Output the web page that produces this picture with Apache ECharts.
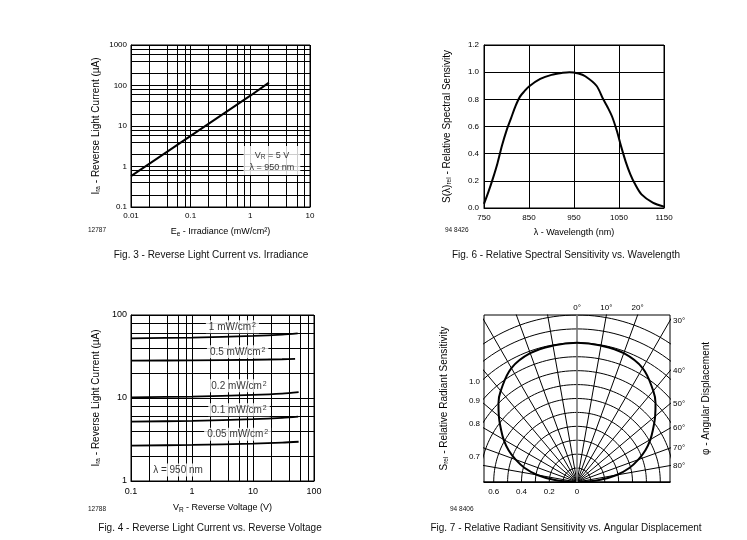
<!DOCTYPE html>
<html>
<head>
<meta charset="utf-8">
<script src="https://cdn.jsdelivr.net/npm/echarts@6.0.0/dist/echarts.min.js"></script>
<style>
html,body{margin:0;padding:0;background:#fff;}
#chart{width:747px;height:540px;}
</style>
</head>
<body>
<div id="chart"></div>
<script>
// ---------------- Fig. 3 : Reverse light current vs. irradiance ----------------
const fig3Irradiance = [0.01, 0.1, 1, 2.05];          // mW/cm²
const fig3Current    = [0.58, 5.7, 56, 118];          // µA
const fig3XTicks = [0.01, 0.1, 1, 10];
const fig3YTicks = [0.1, 1, 10, 100, 1000];

// ---------------- Fig. 6 : Relative spectral sensitivity ----------------
const fig6Wavelength  = [750, 760, 770, 780, 790, 800, 810, 820, 830, 840, 850, 875, 900, 925, 940, 960, 975, 1000, 1015, 1025, 1035, 1045, 1055, 1065, 1075, 1085, 1100, 1125, 1150];
const fig6Sensitivity = [0.03, 0.12, 0.22, 0.33, 0.46, 0.57, 0.66, 0.75, 0.82, 0.86, 0.895, 0.95, 0.98, 0.995, 1.0, 0.99, 0.97, 0.90, 0.80, 0.74, 0.67, 0.57, 0.45, 0.34, 0.25, 0.18, 0.10, 0.04, 0.01];
const fig6XTicks = [750, 850, 950, 1050, 1150];
const fig6YTicks = [0, 0.2, 0.4, 0.6, 0.8, 1.0, 1.2];

// ---------------- Fig. 4 : Reverse light current vs. reverse voltage ----------------
const fig4Voltage1    = [0.1, 1, 10, 30, 54];
const fig4Current1    = [52.4, 53.5, 56, 58, 60];     // 1 mW/cm²
const fig4Voltage05   = [0.1, 1, 10, 30, 49];
const fig4Current05   = [28.2, 28.4, 28.9, 29.3, 29.6]; // 0.5 mW/cm²
const fig4Voltage02   = [0.1, 1, 10, 30, 56];
const fig4Current02   = [10.2, 10.4, 10.9, 11.3, 11.8]; // 0.2 mW/cm²
const fig4Voltage01   = [0.1, 1, 10, 30, 55];
const fig4Current01   = [5.19, 5.3, 5.55, 5.75, 5.95];  // 0.1 mW/cm²
const fig4Voltage005  = [0.1, 1, 10, 30, 56];
const fig4Current005  = [2.67, 2.72, 2.82, 2.9, 2.97];  // 0.05 mW/cm²
const fig4CurveLabels = ['1', '0.5', '0.2', '0.1', '0.05'];
const fig4XTicks = [0.1, 1, 10, 100];
const fig4YTicks = [1, 10, 100];

// ---------------- Fig. 7 : Relative radiant sensitivity vs. angle ----------------
const fig7Angle = [0, 10, 20, 30, 40, 45, 50, 55, 60, 65, 70, 75, 80, 85, 90];       // degrees
const fig7Sens  = [1.0, 0.995, 0.985, 0.945, 0.855, 0.80, 0.735, 0.67, 0.61, 0.545, 0.47, 0.39, 0.29, 0.16, 0.02];
const fig7Rings  = [0.1, 0.2, 0.3, 0.4, 0.5, 0.6, 0.7, 0.8, 0.9, 1.0, 1.1, 1.2];
const fig7Spokes = [-90, -80, -70, -60, -50, -40, -30, -20, -10, 0, 10, 20, 30, 40, 50, 60, 70, 80, 90];
const fig7LeftLabels   = [1.0, 0.9, 0.8, 0.7];
const fig7BottomLabels = [0.6, 0.4, 0.2, 0];
const fig7TopLabels    = [0, 10, 20];
const fig7RightLabels  = [30, 40, 50, 60, 70, 80];

const logGridMultipliers = [1, 2, 4, 6, 8];

// ---------------------------------------------------------------------------
const FONT = '"Liberation Sans", Arial, Helvetica, sans-serif';
const INK = '#000';
const D2R = Math.PI / 180;
const X7MIN = -0.67, X7MAX = 0.67, Y7MAX = 1.2;

function logGridValues(lo, hi) {
  const out = [];
  for (let e = lo; e < hi; e++) {
    logGridMultipliers.forEach(m => out.push(+(m * Math.pow(10, e)).toPrecision(6)));
  }
  out.push(+Math.pow(10, hi).toPrecision(6));
  return out;
}
function zip(xs, ys) { return xs.map((x, i) => [x, ys[i]]); }
function fmtNum(v) { return String(+(+v).toPrecision(6)); }

const subRich = {
  s: { fontSize: 6.5, fontFamily: FONT, color: INK, verticalAlign: 'bottom', lineHeight: 7 }
};
function nameStyle(size) {
  return { fontSize: size, fontFamily: FONT, color: INK, lineHeight: 12, rich: subRich };
}
function tickLabel(size, margin, extra) {
  return Object.assign({ fontSize: size, fontFamily: FONT, color: INK, margin: margin }, extra || {});
}
function textSeries(xi, yi, items, style) {
  return {
    type: 'scatter', xAxisIndex: xi, yAxisIndex: yi, z: 10, silent: true, animation: false,
    symbolSize: 0.1, itemStyle: { color: 'transparent' },
    label: Object.assign({
      show: true, position: 'inside', fontFamily: FONT, color: INK,
      backgroundColor: '#fff'
    }, style),
    data: items
  };
}

// ---- Fig 7 geometry (polar -> cartesian in data units) ----
function polarPt(r, deg) { return [r * Math.sin(deg * D2R), r * Math.cos(deg * D2R)]; }
const fig7Series = [];
fig7Rings.forEach(r => {
  const pts = [];
  for (let a = -90; a <= 90; a += 2) pts.push(polarPt(r, a));
  fig7Series.push({ type: 'line', xAxisIndex: 3, yAxisIndex: 3, data: pts, showSymbol: false, silent: true,
    animation: false, z: 2, lineStyle: { color: INK, width: 1 } });
});
fig7Spokes.forEach(a => {
  fig7Series.push({ type: 'line', xAxisIndex: 3, yAxisIndex: 3, data: [[0, 0], polarPt(1.6, a)], showSymbol: false,
    silent: true, animation: false, z: a === 0 ? 3 : 2,
    lineStyle: { color: a === 0 ? '#777' : INK, width: a === 0 ? 1.6 : 1 } });
});
const fig7Curve = [];
for (let i = fig7Angle.length - 1; i > 0; i--) fig7Curve.push(polarPt(fig7Sens[i], -fig7Angle[i]));
for (let i = 0; i < fig7Angle.length; i++) fig7Curve.push(polarPt(fig7Sens[i], fig7Angle[i]));
fig7Series.push({ type: 'line', xAxisIndex: 3, yAxisIndex: 3, data: fig7Curve, smooth: 0.4, showSymbol: false,
  silent: true, animation: false, z: 5, lineStyle: { color: INK, width: 2 } });

const supRich = { p: { fontSize: 7, fontFamily: FONT, color: INK, verticalAlign: 'top', lineHeight: 7, padding: [0, 0, 0, 1] } };

function logAxis(grid, ticks, labelSize, labelMargin, extra) {
  return Object.assign({
    gridIndex: grid, type: 'log', logBase: 10, min: ticks[0], max: ticks[ticks.length - 1],
    axisLine: { show: true, lineStyle: { color: INK } },
    axisTick: { show: false, customValues: logGridValues(Math.round(Math.log10(ticks[0])), Math.round(Math.log10(ticks[ticks.length - 1]))) },
    splitLine: { show: true, lineStyle: { color: INK, width: 1 } },
    axisLabel: tickLabel(labelSize, labelMargin, { customValues: ticks, formatter: fmtNum })
  }, extra);
}

const option = {
  animation: false,
  backgroundColor: '#fff',
  textStyle: { fontFamily: FONT },
  grid: [
    { left: 131, top: 45, width: 179, height: 162, show: true, borderColor: INK, borderWidth: 1 },
    { left: 484, top: 45, width: 180, height: 163, show: true, borderColor: INK, borderWidth: 1 },
    { left: 131, top: 315, width: 183, height: 166, show: true, borderColor: INK, borderWidth: 1 },
    { left: 484, top: 315, width: 186, height: 167, show: true, borderColor: INK, borderWidth: 1 }
  ],
  xAxis: [
    logAxis(0, fig3XTicks, 8, 5, {
      name: 'E{s|e} - Irradiance (mW/cm²)', nameLocation: 'middle', nameGap: 19, nameTextStyle: nameStyle(9) }),
    { gridIndex: 1, type: 'value', min: fig6XTicks[0], max: fig6XTicks[fig6XTicks.length - 1], interval: 100,
      axisLine: { show: true, lineStyle: { color: INK } }, axisTick: { show: false },
      splitLine: { show: true, lineStyle: { color: INK, width: 1 } },
      axisLabel: tickLabel(8, 6, { formatter: v => String(v) }),
      name: 'λ - Wavelength (nm)', nameLocation: 'middle', nameGap: 19, nameTextStyle: nameStyle(9) },
    logAxis(2, fig4XTicks, 9, 6, {
      name: 'V{s|R} - Reverse Voltage (V)', nameLocation: 'middle', nameGap: 21, nameTextStyle: nameStyle(9) }),
    { gridIndex: 3, type: 'value', min: X7MIN, max: X7MAX, position: 'bottom',
      axisLine: { show: true, lineStyle: { color: INK } }, axisTick: { show: false }, splitLine: { show: false },
      axisLabel: tickLabel(8, 6, { customValues: fig7BottomLabels.map(v => -v),
        formatter: v => (Math.abs(v) < 1e-9 ? '0' : Math.abs(v).toFixed(1)) }) },
    { gridIndex: 3, type: 'value', min: X7MIN, max: X7MAX, position: 'top',
      axisLine: { show: false }, axisTick: { show: false }, splitLine: { show: false },
      axisLabel: tickLabel(8, 3, { customValues: fig7TopLabels.map(a => Y7MAX * Math.tan(a * D2R)),
        formatter: v => Math.round(Math.atan(v / Y7MAX) / D2R) + '°' }) }
  ],
  yAxis: [
    logAxis(0, fig3YTicks, 8, 4, {
      name: 'I{s|ra} - Reverse Light Current (µA)', nameLocation: 'middle', nameRotate: 90, nameGap: 29,
      nameTextStyle: nameStyle(10) }),
    { gridIndex: 1, type: 'value', min: fig6YTicks[0], max: fig6YTicks[fig6YTicks.length - 1], interval: 0.2,
      axisLine: { show: true, lineStyle: { color: INK } }, axisTick: { show: false },
      splitLine: { show: true, lineStyle: { color: INK, width: 1 } },
      axisLabel: tickLabel(8, 5, { formatter: v => (+v).toFixed(1) }),
      name: 'S(λ){s|rel} - Relative Spectral Sensivity', nameLocation: 'middle', nameRotate: 90, nameGap: 31,
      nameTextStyle: nameStyle(10) },
    logAxis(2, fig4YTicks, 9, 4, {
      name: 'I{s|ra} - Reverse Light Current (µA)', nameLocation: 'middle', nameRotate: 90, nameGap: 29,
      nameTextStyle: nameStyle(10) }),
    { gridIndex: 3, type: 'value', min: 0, max: Y7MAX, position: 'left',
      axisLine: { show: false }, axisTick: { show: false }, splitLine: { show: false },
      axisLabel: tickLabel(8, 4, { customValues: fig7LeftLabels.map(r => Math.sqrt(r * r - X7MIN * X7MIN) - 0.02),
        formatter: v => Math.sqrt((v + 0.02) * (v + 0.02) + X7MIN * X7MIN).toFixed(1) }),
      name: 'S{s|rel} - Relative Radiant Sensitivity', nameLocation: 'middle', nameRotate: 90, nameGap: 34,
      nameTextStyle: nameStyle(10) },
    { gridIndex: 3, type: 'value', min: 0, max: Y7MAX, position: 'right',
      axisLine: { show: false }, axisTick: { show: false }, splitLine: { show: false },
      axisLabel: tickLabel(8, 3, { customValues: fig7RightLabels.map(a => X7MAX / Math.tan(a * D2R)),
        formatter: v => Math.round(Math.atan(X7MAX / v) / D2R) + '°' }),
      name: 'φ - Angular Displacement', nameLocation: 'middle', nameRotate: 90, nameGap: 30,
      nameTextStyle: nameStyle(10) }
  ],
  series: [
    // Fig 3
    { type: 'line', xAxisIndex: 0, yAxisIndex: 0, data: zip(fig3Irradiance, fig3Current), showSymbol: false,
      silent: true, z: 5, lineStyle: { color: INK, width: 2 } },
    textSeries(0, 0, [{ value: [2.3, 1.4], label: { formatter: 'V{s|R} = 5 V\nλ = 950 nm' } }],
      { fontSize: 9, lineHeight: 12, padding: [3, 6, 2, 6], align: 'center', rich: subRich }),
    // Fig 6
    { type: 'line', xAxisIndex: 1, yAxisIndex: 1, data: zip(fig6Wavelength, fig6Sensitivity), smooth: 0.3,
      showSymbol: false, silent: true, z: 5, lineStyle: { color: INK, width: 2 } },
    // Fig 4
    { type: 'line', xAxisIndex: 2, yAxisIndex: 2, data: zip(fig4Voltage1, fig4Current1), smooth: 0.3, showSymbol: false, silent: true, z: 5, lineStyle: { color: INK, width: 1.8 } },
    { type: 'line', xAxisIndex: 2, yAxisIndex: 2, data: zip(fig4Voltage05, fig4Current05), smooth: 0.3, showSymbol: false, silent: true, z: 5, lineStyle: { color: INK, width: 1.8 } },
    { type: 'line', xAxisIndex: 2, yAxisIndex: 2, data: zip(fig4Voltage02, fig4Current02), smooth: 0.3, showSymbol: false, silent: true, z: 5, lineStyle: { color: INK, width: 1.8 } },
    { type: 'line', xAxisIndex: 2, yAxisIndex: 2, data: zip(fig4Voltage01, fig4Current01), smooth: 0.3, showSymbol: false, silent: true, z: 5, lineStyle: { color: INK, width: 1.8 } },
    { type: 'line', xAxisIndex: 2, yAxisIndex: 2, data: zip(fig4Voltage005, fig4Current005), smooth: 0.3, showSymbol: false, silent: true, z: 5, lineStyle: { color: INK, width: 1.8 } },
    textSeries(2, 2, [
      { value: [4.6, 72.3], label: { formatter: fig4CurveLabels[0] + ' mW/cm{p|2}' } },
      { value: [5.6, 36.1], label: { formatter: fig4CurveLabels[1] + ' mW/cm{p|2}' } },
      { value: [5.9, 14.0], label: { formatter: fig4CurveLabels[2] + ' mW/cm{p|2}' } },
      { value: [5.9, 7.2], label: { formatter: fig4CurveLabels[3] + ' mW/cm{p|2}' } },
      { value: [5.6, 3.66], label: { formatter: fig4CurveLabels[4] + ' mW/cm{p|2}' } },
      { value: [0.59, 1.36], label: { formatter: 'λ = 950 nm' } }
    ], { fontSize: 10, lineHeight: 12, padding: [1, 3, 0, 3], rich: supRich })
  ].concat(fig7Series),
  graphic: [
    { type: 'text', x: 211, y: 255, style: { text: 'Fig. 3 - Reverse Light Current vs. Irradiance', font: '10px ' + FONT, fill: '#111', align: 'center', verticalAlign: 'middle' } },
    { type: 'text', x: 566, y: 255, style: { text: 'Fig. 6 - Relative Spectral Sensitivity vs. Wavelength', font: '10px ' + FONT, fill: '#111', align: 'center', verticalAlign: 'middle' } },
    { type: 'text', x: 210, y: 528, style: { text: 'Fig. 4 - Reverse Light Current vs. Reverse Voltage', font: '10px ' + FONT, fill: '#111', align: 'center', verticalAlign: 'middle' } },
    { type: 'text', x: 566, y: 528, style: { text: 'Fig. 7 - Relative Radiant Sensitivity vs. Angular Displacement', font: '10px ' + FONT, fill: '#111', align: 'center', verticalAlign: 'middle' } },
    { type: 'text', x: 88, y: 230, style: { text: '12787', font: '6.5px ' + FONT, fill: '#111', align: 'left', verticalAlign: 'middle' } },
    { type: 'text', x: 445, y: 230, style: { text: '94 8426', font: '6.5px ' + FONT, fill: '#111', align: 'left', verticalAlign: 'middle' } },
    { type: 'text', x: 88, y: 509, style: { text: '12788', font: '6.5px ' + FONT, fill: '#111', align: 'left', verticalAlign: 'middle' } },
    { type: 'text', x: 450, y: 509, style: { text: '94 8406', font: '6.5px ' + FONT, fill: '#111', align: 'left', verticalAlign: 'middle' } }
  ]
};

const chart = echarts.init(document.getElementById('chart'), null, { renderer: 'canvas' });
chart.setOption(option);
</script>
</body>
</html>
